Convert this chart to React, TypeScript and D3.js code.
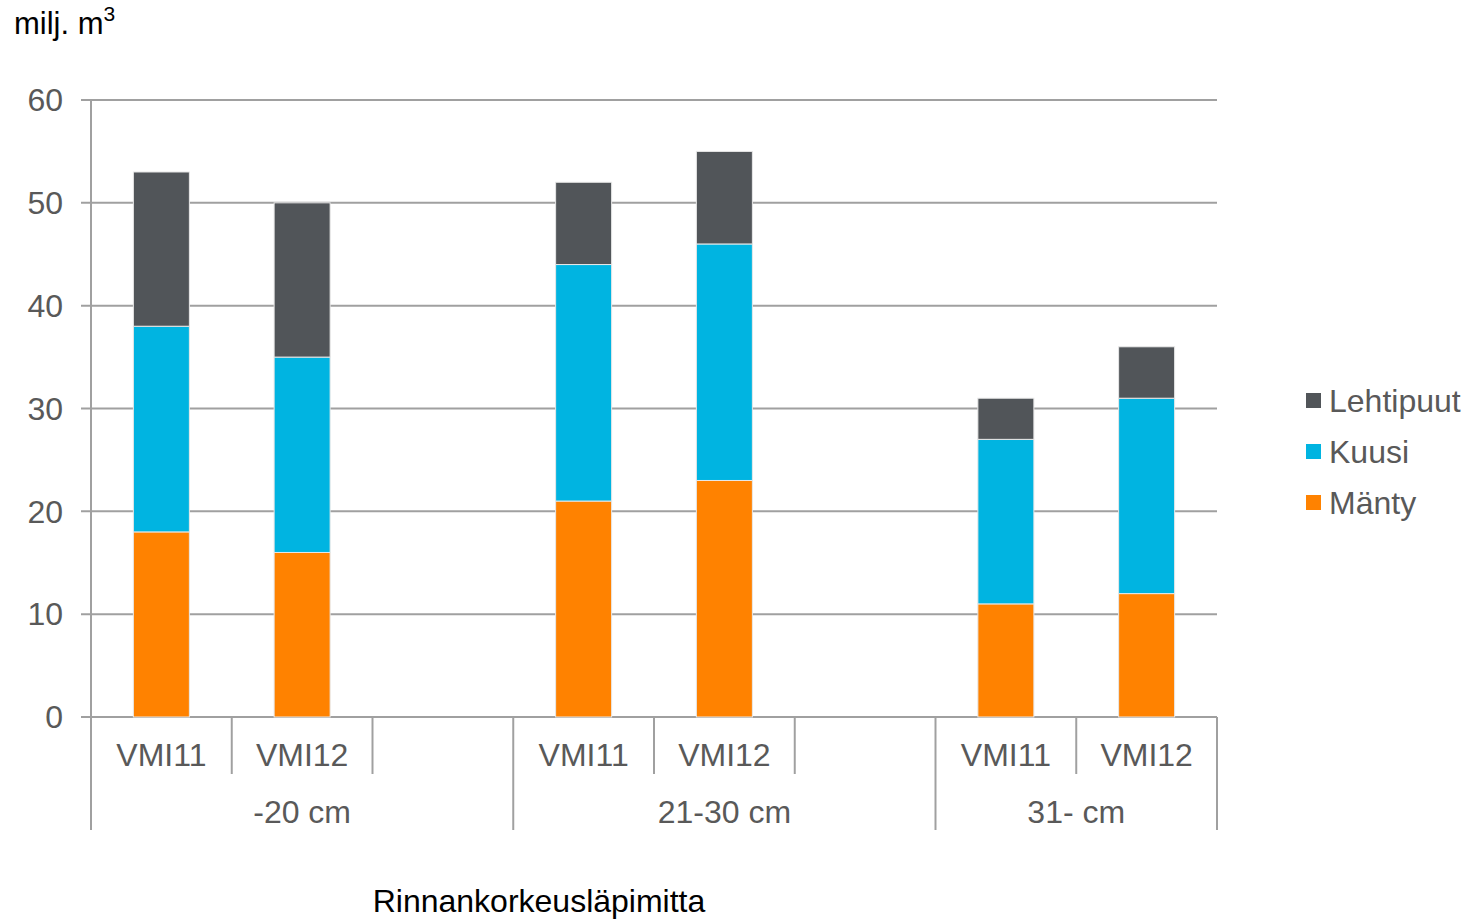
import * as d3 from "d3";

const groups = ["-20 cm", "21-30 cm", "31- cm"];
const slotLabels = ["VMI11", "VMI12", "", "VMI11", "VMI12", "", "VMI11", "VMI12"];
const slotGroup = [0, 0, 0, 1, 1, 1, 2, 2];
const series = ["Mänty", "Kuusi", "Lehtipuut"];
const colors = ["#FF8200", "#00B4E1", "#515559"];
// values per slot (empty slots = null)
const manty = [18, 16, null, 21, 23, null, 11, 12];
const kuusi = [20, 19, null, 23, 23, null, 16, 19];
const lehtipuut = [15, 15, null, 8, 9, null, 4, 5];
const yTicks = [0, 10, 20, 30, 40, 50, 60];

const W = 1474;
const H = 920;
const left = 91;
const right = 1217;
const top = 100;
const bottom = 717;
const FONT = "'Liberation Sans', Arial, sans-serif";
const FS = 32;

export default function App() {
  const x = d3
    .scaleBand<number>()
    .domain(d3.range(slotLabels.length))
    .range([left, right]);
  const y = d3.scaleLinear().domain([0, 60]).range([bottom, top]);
  const barW = 56;

  const rows = slotLabels.map((_, i) => ({ slot: i, Mänty: manty[i] ?? 0, Kuusi: kuusi[i] ?? 0, Lehtipuut: lehtipuut[i] ?? 0 }));
  const stacked = d3.stack<any>().keys(series)(rows);

  // group boundaries
  const groupEdges = groups.map((_, g) => {
    const idx = slotGroup.map((v, i) => (v === g ? i : -1)).filter((i) => i >= 0);
    const x0 = x(idx[0])!;
    const x1 = x(idx[idx.length - 1])! + x.bandwidth();
    return { x0, x1 };
  });

  return (
    <svg width={W} height={H} style={{ position: "absolute", left: 0, top: 0, background: "#fff" }} fontFamily={FONT}>
      {/* y title */}
      <text x={14} y={34} fontSize={FS - 1} fill="#000">
        milj. m<tspan dy={-13} fontSize={21}>3</tspan>
      </text>

      {/* gridlines */}
      {yTicks.map((t) => (
        <g key={t}>
          <line x1={left - 10} x2={right} y1={y(t)} y2={y(t)} stroke="#A0A0A0" strokeWidth={2} />
          <text x={63} y={y(t)} dy="0.35em" textAnchor="end" fontSize={FS} fill="#595959">
            {t}
          </text>
        </g>
      ))}
      <line x1={left} x2={left} y1={top} y2={bottom} stroke="#A0A0A0" strokeWidth={2} />

      {/* bars */}
      {stacked.map((s, si) => (
        <g key={s.key}>
          {s.map((d, i) =>
            slotLabels[i] === "" ? null : (
              <rect
                key={i}
                x={x(i)! + x.bandwidth() / 2 - barW / 2}
                y={y(d[1])}
                width={barW}
                height={y(d[0]) - y(d[1])}
                fill={colors[si]}
                stroke="#E8E8E8"
                strokeWidth={1}
              />
            )
          )}
        </g>
      ))}

      {/* category axis */}
      {slotLabels.map((lab, i) => (
        <g key={i}>
          {i > 0 && slotGroup[i] === slotGroup[i - 1] && (
            <line x1={x(i)!} x2={x(i)!} y1={bottom} y2={774} stroke="#A0A0A0" strokeWidth={2} />
          )}
          <text x={x(i)! + x.bandwidth() / 2} y={766} textAnchor="middle" fontSize={FS} fill="#595959">
            {lab}
          </text>
        </g>
      ))}
      {groupEdges.map((e, g) => (
        <g key={g}>
          <line x1={e.x0} x2={e.x0} y1={bottom} y2={830} stroke="#A0A0A0" strokeWidth={2} />
          {g === groupEdges.length - 1 && (
            <line x1={e.x1} x2={e.x1} y1={bottom} y2={830} stroke="#A0A0A0" strokeWidth={2} />
          )}
          <text x={(e.x0 + e.x1) / 2} y={823} textAnchor="middle" fontSize={FS} fill="#595959">
            {groups[g]}
          </text>
        </g>
      ))}

      {/* x title */}
      <text x={539} y={912} textAnchor="middle" fontSize={FS} fill="#000">
        Rinnankorkeusläpimitta
      </text>

      {/* legend */}
      {series
        .slice()
        .reverse()
        .map((s, k) => {
          const ci = series.length - 1 - k;
          const cy = 401 + k * 51;
          return (
            <g key={s}>
              <rect x={1306} y={cy - 8} width={15} height={15} fill={colors[ci]} />
              <text x={1329} y={cy} dy="0.35em" fontSize={FS} fill="#595959">
                {s}
              </text>
            </g>
          );
        })}
    </svg>
  );
}
